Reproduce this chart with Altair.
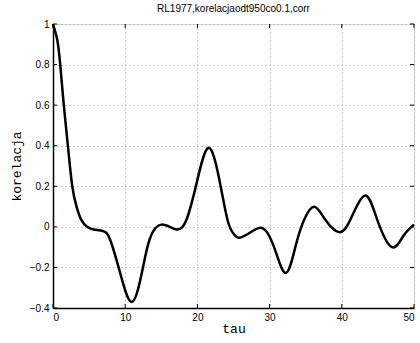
import altair as alt
import pandas as pd

tau = [0.0, 0.6, 1.0, 1.5, 2.06, 2.67, 3.26, 3.9, 4.73, 5.6, 6.9, 7.9, 9.3, 10.9,
       12.3, 13.4, 15.0, 17.1, 18.5, 19.9, 21.5, 23.0, 24.2, 25.1, 25.8, 27.2, 28.6, 29.7,
       30.9, 32.3, 33.6, 34.8, 36.2, 37.7, 39.6, 41.2, 43.2, 44.9, 46.9, 48.5, 50.0]
corr = [1.0, 0.92, 0.8, 0.6, 0.4, 0.2, 0.1, 0.036, 0.0, -0.013, -0.02, -0.062, -0.227, -0.37,
        -0.227, -0.06, 0.011, -0.013, 0.036, 0.217, 0.389, 0.24, 0.03, -0.038, -0.054, -0.03, -0.005, -0.03,
        -0.128, -0.227, -0.095, 0.036, 0.099, 0.036, -0.026, 0.036, 0.154, 0.036, -0.099, -0.046, 0.011]

x_ticks = [0, 10, 20, 30, 40, 50]
y_ticks = [-0.4, -0.2, 0, 0.2, 0.4, 0.6, 0.8, 1]

df = pd.DataFrame({"tau": tau, "corr": corr})
xt = pd.DataFrame({"t": x_ticks})
yt = pd.DataFrame({"v": y_ticks})

xs = alt.Scale(domain=[0, 50], nice=False, zero=False)
ys = alt.Scale(domain=[-0.4, 1], nice=False, zero=False)

line = alt.Chart(df).mark_line(color="black", strokeWidth=2.5, interpolate="natural").encode(
    x=alt.X("tau:Q", scale=xs,
            axis=alt.Axis(values=x_ticks, title="tau", grid=True, gridDash=[1, 3], gridColor="#999999",
                          gridWidth=1, domainColor="black", domainWidth=1.5, ticks=False, format="~g",
                          labelFont="Liberation Sans", labelFontSize=10, labelColor="black", labelPadding=4,
                          titleFont="Liberation Mono", titleFontSize=13, titleFontWeight="normal",
                          titleColor="black", titlePadding=0)),
    y=alt.Y("corr:Q", scale=ys,
            axis=alt.Axis(values=y_ticks, title="korelacja", grid=True, gridDash=[1, 3], gridColor="#999999",
                          gridWidth=1, domainColor="black", domainWidth=1.5, ticks=False, format="~g",
                          labelFont="Liberation Sans", labelFontSize=10, labelColor="black", labelPadding=4,
                          titleFont="Liberation Mono", titleFontSize=13, titleFontWeight="normal",
                          titleColor="black", titlePadding=6)),
)

xtick_bottom = alt.Chart(xt).mark_rule(color="black", strokeWidth=1).encode(
    x=alt.X("t:Q", scale=xs), y=alt.value(284), y2=alt.value(280))
xtick_top = alt.Chart(xt).mark_rule(color="black", strokeWidth=1).encode(
    x=alt.X("t:Q", scale=xs), y=alt.value(0), y2=alt.value(4))
ytick_left = alt.Chart(yt).mark_rule(color="black", strokeWidth=1).encode(
    y=alt.Y("v:Q", scale=ys), x=alt.value(0), x2=alt.value(4))
ytick_right = alt.Chart(yt).mark_rule(color="black", strokeWidth=1).encode(
    y=alt.Y("v:Q", scale=ys), x=alt.value(361), x2=alt.value(357))

chart = alt.layer(line, xtick_bottom, xtick_top, ytick_left, ytick_right).properties(
    width=361, height=284,
    title=alt.TitleParams("RL1977,korelacjaodt950co0.1,corr", font="Liberation Sans", fontSize=10,
                          fontWeight="normal", color="black", offset=5),
    autosize=alt.AutoSizeParams(type="none"),
    padding={"left": 53, "top": 24, "right": 6, "bottom": 35},
).configure_view(stroke="black", strokeWidth=1.5).configure(background="white")

chart.save("out.html", embed_options={"renderer": "svg", "actions": False})
